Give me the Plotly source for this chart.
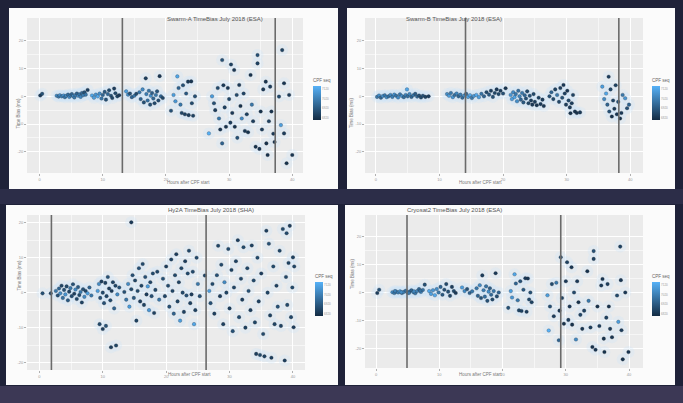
import plotly.graph_objects as go

W, H = 683, 403

# ---------------- data ----------------
titles = ["Swarm-A TimeBias July 2018 (ESA)", "Swarm-B TimeBias July 2018 (ESA)",
          "Hy2A TimeBias July 2018 (SHA)", "Cryosat2 TimeBias July 2018 (ESA)"]
x_title = "Hours after CPF start"
y_title = "Time Bias (ms)"
cbar_title = "CPF seq"
x_ticks = [0, 10, 20, 30, 40]
y_ticks = [-20, -10, 0, 10, 20]
seq_ticks = [6820, 6920, 7020, 7120]

swarm_a_hours = [0.1, 0.4,
    2.7, 3.0, 3.2, 3.5, 3.8, 4.0, 4.2, 4.5, 4.7, 4.9, 5.1, 5.3, 5.5, 5.7, 5.9, 6.1, 6.3, 6.5, 6.7, 6.9, 7.1, 7.3, 7.6,
    8.3, 8.6, 8.9, 9.2, 9.5, 9.8, 10.0, 10.3, 10.5, 10.8, 11.0, 11.3, 11.5, 11.8, 12.0, 12.3, 12.6,
    13.7, 14.0, 14.3, 14.6, 15.0, 15.3,
    15.8, 16.0, 16.3, 16.5, 16.8, 16.9, 17.1, 17.3, 17.5, 17.6, 17.8, 18.0, 18.2, 18.4, 18.6, 18.8, 19.0, 19.2, 19.5,
    20.8, 21.2, 21.5, 21.8, 22.0, 22.3, 22.5, 22.7, 23.0, 23.2, 23.5, 23.6, 24.0, 24.1, 24.3, 24.6,
    26.8, 27.3, 27.6, 27.8, 28.2, 28.4, 28.6, 28.9, 28.9, 29.1, 29.3, 29.5, 29.8, 30.0, 30.2, 30.3, 30.5, 30.8, 30.9, 31.2,
    31.3, 31.6, 31.8, 32.0, 32.3, 32.5, 32.8, 33.0, 33.4, 33.6, 33.8, 34.2, 34.5, 34.5, 34.8, 35.0, 35.2, 35.4, 35.8, 35.9,
    36.1, 36.3, 36.5, 36.7, 37.0, 37.2,
    37.9, 38.2, 38.4, 38.7, 38.7, 39.1, 39.5, 40.0]
swarm_a_bias = [0.3, 0.9,
    0.2, -0.1, 0.4, 0.0, 0.3, -0.3, 0.2, 0.6, -0.2, 0.3, 0.8, 0.1, -0.4, 0.5, 1.0, 0.2, 0.7, -0.2, 1.2, 0.4, 1.5, 0.6, 2.3,
    0.3, -0.5, 0.6, 0.0, 1.0, -0.8, 0.5, 1.6, -1.2, 0.8, 2.2, 0.2, -0.6, 2.8, 1.1, 0.0, 0.4,
    1.8, 0.6, 1.0, -0.3, 0.2, 0.9,
    1.5, -1.0, 2.5, -2.2, 6.5, 0.8, -1.5, 2.0, -3.0, 0.2, 1.2, -0.8, -2.5, 0.5, 1.8, -1.5, 7.3, 0.0, -0.6,
    -5.2, 0.5, -1.8, 7.2, 3.0, -3.0, -6.0, 4.0, -6.5, 1.0, 5.3, -6.8, 5.4, -2.5, -7.0, 0.0,
    -13.4, 0.0, -2.5, -5.0, 3.0, -8.0, -12.0, 13.1, -17.0, 4.0, -4.0, -11.0, 3.0, -1.0, -9.5, 11.5, -6.0, 9.5, -11.0, 0.5,
    -15.0, 4.1, -3.5, -8.0, 1.0, -12.5, -6.5, -13.0, 7.7, -3.0, -9.0, -18.2, 14.9, 11.9, -19.0, -5.5, -12.0, 2.5, 5.3, -17.0,
    -21.2, -9.0, 3.5, -5.5, -13.5, -16.5,
    -0.1, -10.4, 16.7, 4.7, -13.4, -24.2, 0.5, -21.2]
swarm_a_seq = [6850, 6900,
    7050, 7000, 7060, 7020, 7080, 7000, 7040, 6980, 7060, 7010, 6950, 7050, 7000, 7030, 6950, 7070, 6990, 7040, 6960, 7020, 6900, 7000, 6850,
    7120, 7100, 7080, 7130, 7060, 7000, 6950, 6920, 6900, 6960, 6880, 6900, 6870, 6850, 6880, 6870, 6840,
    7100, 7050, 6900, 6950, 7000, 6880,
    7000, 6950, 7050, 6900, 6850, 7020, 6980, 6990, 6900, 7060, 6930, 6960, 6880, 7000, 6910, 6890, 6830, 6950, 6870,
    6900, 7100, 7080, 7120, 6950, 7000, 6870, 6900, 6860, 6920, 6840, 6850, 6830, 6880, 6860, 6900,
    7150, 7100, 6900, 6850, 6880, 7000, 6830, 6900, 6950, 6840, 6860, 6820, 6830, 6870, 6850, 6860, 6840, 6830, 6820, 6880,
    6900, 6840, 6820, 7050, 6870, 6830, 6860, 6820, 6820, 7000, 6850, 6820, 6900, 6860, 6830, 6820, 6850, 6840, 6830, 6820,
    6820, 6860, 6850, 6820, 6840, 6830,
    6880, 7100, 6860, 6830, 6850, 6820, 6840, 6830]

swarm_b_hours = [0.2, 0.5, 0.8, 1.1, 1.4, 1.7, 2.0, 2.3, 2.6, 2.9, 3.2, 3.5, 3.8, 4.1, 4.4, 4.9, 4.7, 5.0, 5.3, 5.6, 5.9, 6.2, 6.5, 6.8, 7.1, 7.4, 7.8, 8.3,
    11.2, 11.5, 11.8, 12.1, 12.4, 12.7, 13.0, 13.3, 13.6, 13.9, 14.2, 14.5, 14.8, 15.1, 15.4,
    15.8, 16.2, 16.6, 17.0, 17.4, 17.8, 18.1, 18.4, 18.7, 19.0, 19.3, 19.6, 20.0, 20.4,
    21.2, 21.4, 21.6, 21.8, 22.0, 22.2, 22.4, 22.6, 22.8, 23.0, 23.2, 23.4, 23.6, 23.8, 24.0, 24.2, 24.4, 24.6, 24.8, 25.0, 25.3, 25.6, 25.9, 26.2, 26.4,
    27.3, 27.6, 27.9, 28.2, 28.5, 28.8, 29.0, 29.3, 29.5, 29.7, 29.9, 30.1, 30.3, 30.5, 30.6, 30.8, 31.0, 31.3, 31.6, 32.1,
    35.6, 35.9, 36.2, 36.4, 36.6, 36.7, 36.9, 37.1, 37.3, 37.5, 37.7, 37.9, 38.1, 38.4, 38.6, 38.8, 39.2, 39.5, 39.8]
swarm_b_bias = [-0.2, 0.3, -0.5, 0.1, 0.4, -0.3, 0.0, 0.5, -0.2, 0.6, 0.2, -0.4, 0.7, 0.1, -0.3, 2.5, 0.5, 0.0, 0.8, -0.2, 0.4, 0.9, -0.1, 0.3, -0.4, 0.2, -0.2, 0.0,
    0.8, 0.2, 1.2, -0.3, 0.5, 1.0, 0.0, 0.6, -0.5, 0.3, 0.9, -0.2, 0.4, -0.6, 0.1,
    0.5, -0.3, 0.9, 0.0, 1.5, 0.6, 2.0, -0.2, 1.2, 2.5, 0.8, 2.0, 1.0, 2.9,
    0.5, -1.0, 1.5, -0.3, 0.8, -1.8, 2.0, 0.0, -1.2, 1.2, -2.2, 0.4, -0.8, 1.8, -2.5, 0.2, -1.5, -3.0, 0.8, -2.0, -3.2, -0.5, -2.8, -1.2, -3.5,
    0.0, 1.5, -1.0, 2.5, 0.5, -2.0, 3.0, -0.5, 4.1, 1.0, -3.0, 2.0, -1.5, -4.0, -6.1, -2.5, 0.5, -5.5, -6.0, -5.8,
    3.5, -1.0, 1.0, -3.0, 7.1, -5.5, 2.5, -7.3, -1.5, -4.5, 4.0, -6.5, -2.0, -8.0, -6.0, 0.5, -0.7, -4.3, -3.0]
swarm_b_seq = [7000, 7050, 6950, 7080, 7000, 7060, 6980, 7040, 7020, 7070, 6990, 7050, 7010, 7060, 6970, 7120, 7030, 6980, 7040, 6950, 7000, 6930, 6960, 6900, 6880, 6900, 6860, 6850,
    7050, 7100, 7000, 7080, 6980, 7040, 6960, 7020, 6970, 7060, 6950, 7100, 7120, 7000, 7080,
    7130, 7100, 6990, 6950, 6880, 6920, 6850, 6900, 6870, 6840, 6880, 6850, 6900, 6830,
    7080, 7100, 7050, 7120, 7000, 7060, 6980, 7040, 6950, 7000, 6920, 6960, 6900, 6880, 6870, 6900, 6850, 6840, 6880, 6850, 6830, 6860, 6840, 6850, 6830,
    6900, 6950, 6880, 6860, 7000, 6870, 6850, 6900, 6840, 6860, 6850, 6830, 6880, 6840, 6820, 6850, 6860, 6830, 6820, 6840,
    7100, 7050, 7120, 6950, 6850, 6900, 6880, 6820, 6870, 6840, 6860, 6830, 6900, 6820, 6840, 7000, 7080, 6900, 6950]

hy2a_hours = [0.5, 1.8,
    2.6, 2.9, 3.1, 3.3, 3.5, 3.7, 3.9, 4.1, 4.3, 4.5, 4.7, 4.9, 5.1, 5.3, 5.5, 5.7, 5.9, 6.1, 6.3, 6.5, 6.7, 6.9, 7.1, 7.3, 7.6, 7.9, 8.2,
    9.2, 9.4, 9.6, 9.8, 10.0, 10.2, 10.4, 10.6, 10.8, 11.0, 11.2, 11.4, 11.6, 11.8, 12.0, 12.3, 12.6,
    9.5, 10.0, 10.5, 11.3, 12.1, 14.5,
    13.4, 13.7, 14.0, 14.2, 14.5, 14.7, 14.9, 15.1, 15.3, 15.5, 15.7, 15.9, 16.1, 16.3, 16.5, 16.7, 16.9, 17.1, 17.3, 17.5, 17.7, 17.9, 18.1, 18.3, 18.6, 18.9,
    19.5, 19.8, 20.0, 20.3, 20.5, 20.8, 21.0, 21.2, 21.4, 21.6, 21.8, 22.0, 22.2, 22.4, 22.6, 22.8, 23.0, 23.2, 23.4, 23.6, 23.8, 24.0, 24.2, 24.4, 24.6, 24.8, 25.0, 25.3, 26.1,
    26.8, 27.0, 27.3, 27.6, 28.0, 28.2, 28.5, 28.7, 29.0, 29.2, 29.5, 29.8, 30.0, 30.3, 30.5, 30.7, 31.0, 31.3, 31.5, 31.8,
    32.0, 32.2, 32.5, 32.8, 33.0, 33.3, 33.5, 33.8, 34.0, 34.2, 34.4, 34.6, 34.8, 35.0, 35.3, 35.5, 35.8, 36.0, 36.2, 36.4,
    36.6, 36.9, 37.1, 37.4, 37.6, 37.9, 38.1, 38.4, 38.7, 38.9, 39.1, 39.3, 39.5, 39.7, 39.9, 40.0, 40.1, 40.2, 39.0]
hy2a_bias = [-0.2, -0.2,
    0.5, -0.8, 1.2, -0.2, 2.0, -1.5, 0.8, -0.5, 1.8, -2.2, 0.3, 1.3, -1.0, 2.4, -0.3, 0.9, -1.8, 1.6, -0.7, 0.2, -2.8, 1.0, -1.2, 0.5, -0.2, 1.5, -0.8,
    0.5, 2.5, -1.5, 3.2, 0.0, -3.0, 2.8, -1.0, 4.5, 1.2, -2.2, 0.5, 3.0, -4.5, 2.0, -0.5, 1.5,
    -9.0, -10.4, -9.5, -15.6, -15.1, 20.1,
    0.2, -2.0, 2.5, -4.0, 1.0, 5.0, -1.5, 3.5, -8.0, 0.5, 7.0, -2.5, 2.0, 8.2, -3.5, 4.5, -0.5, 1.8, -5.0, 3.0, -1.0, 5.5, -5.8, 0.8, 6.0, -2.0,
    4.0, -1.0, 7.5, 2.0, -4.0, 9.5, 0.5, -6.0, 5.0, 11.0, -2.5, 3.0, -8.0, 7.0, 0.0, -5.5, 9.0, -0.8, 5.5, 12.0, -3.0, -0.5, 6.0, -9.0, -5.0, 10.0, 2.5, -1.0, 4.9,
    0.5, -3.0, 2.5, -6.0, 5.0, 13.4, -1.0, 8.0, -9.0, 3.0, 0.0, 12.5, -4.5, 6.5, -11.0, 1.5, 9.0, 15.0, -7.0, 4.0,
    -2.0, 13.0, -10.0, 7.0, 0.5, -5.0, 13.5, 3.5, -8.5, -17.5, 10.0, -2.5, -17.8, 5.5, -11.8, -18.2, 17.7, 0.0, 14.0, -6.5,
    -18.6, 7.5, -9.0, 2.0, -4.0, 12.0, -9.5, 18.2, -19.4, 4.5, -3.5, 8.5, 19.1, -7.0, 1.5, 10.1, -9.9, 7.5, 17.0]
hy2a_seq = [6900, 6880,
    7000, 6900, 6950, 7050, 6870, 6980, 6900, 7080, 6880, 6920, 6860, 7000, 6890, 6900, 6850, 7050, 6870, 6920, 6880, 7000, 6860, 6900, 7050, 6870, 7100, 6950, 7000,
    7100, 7050, 6900, 6850, 6880, 6900, 6860, 6870, 6900, 6850, 6880, 6840, 6860, 6950, 6870, 7050, 6900,
    6880, 6850, 6900, 6850, 6870, 6840,
    6900, 7000, 7050, 7100, 6880, 6900, 6920, 6870, 6860, 6880, 6900, 6850, 6870, 6880, 6860, 6900, 6850, 7100, 7080, 6870, 6900, 6880, 6860, 6880, 6870, 7000,
    6900, 6870, 6850, 6880, 6900, 6860, 6870, 6950, 6880, 6850, 6870, 6860, 7100, 6870, 6880, 6860, 6850, 6900, 6880, 6870, 6860, 6850, 6880, 7120, 6860, 6880, 7000, 6900, 6870,
    7100, 6900, 6880, 6860, 6900, 6870, 6850, 6880, 6860, 7050, 6870, 6880, 6850, 6860, 6900, 6870, 6860, 6850, 6880, 6870,
    6850, 6880, 6860, 6870, 6900, 6850, 6860, 6880, 6870, 6850, 6880, 6860, 6870, 6850, 6880, 6860, 6850, 6870, 6900, 6860,
    6850, 6880, 6870, 6860, 6900, 6870, 6860, 6880, 6850, 6870, 6880, 6860, 6850, 6870, 6880, 6860, 6850, 6870, 6880]

cryosat2_hours = [0.2, 0.5,
    2.6, 2.9, 3.2, 3.5, 3.8, 4.1, 4.4, 4.7, 5.0, 5.3, 5.6, 5.9, 6.2, 6.5, 6.8, 7.1, 7.4, 7.7, 3.0, 4.0, 5.2, 6.0, 7.0,
    8.4, 8.7, 9.0, 9.3, 9.6, 9.9, 10.2, 10.5, 10.8, 11.1, 11.4, 11.7, 12.0, 12.3, 12.6,
    13.6, 14.0, 14.4, 14.8, 15.2,
    15.9, 16.1, 16.4, 16.6, 16.8, 17.0, 17.2, 17.4, 17.6, 17.8, 18.0, 18.2, 18.4, 18.6, 18.9, 19.1, 19.4,
    20.9, 21.3, 21.5, 21.9, 22.1, 22.4, 22.6, 22.8, 23.0, 23.3, 23.6, 23.8, 24.0, 24.2, 24.4, 24.6,
    27.1, 27.3, 27.5, 27.8, 28.1, 28.5, 28.9, 29.0, 29.2, 29.4, 29.7, 30.0, 30.2, 30.4, 30.6, 30.9, 31.0, 31.3, 31.6, 31.8,
    32.0, 32.3, 32.6, 32.9, 33.4, 33.6, 33.9, 34.2, 34.4, 34.4, 34.7, 35.0, 35.3, 35.6, 35.8, 36.0, 36.1, 36.4, 36.6, 36.8,
    37.0, 37.3,
    38.1, 38.3, 38.6, 38.7, 38.8, 39.0, 39.4, 39.9]
cryosat2_bias = [-0.2, 1.0,
    0.1, -0.2, 0.3, 0.0, 0.4, -0.2, 0.2, 0.6, -0.1, 0.3, 0.8, 0.1, -0.3, 0.5, 1.2, 0.2, 0.9, 2.8, 0.5, 0.1, -0.2, 0.4, 0.6,
    0.5, -0.5, 0.8, -1.0, 1.2, 0.0, 2.0, -0.8, 1.0, 3.0, 0.3, -1.2, 2.0, 0.5, -0.2,
    1.8, 0.5, 1.2, -0.2, 0.4,
    1.5, -1.2, 2.6, -2.0, 6.1, 0.8, -1.5, 2.2, -3.0, 0.3, 1.5, -0.8, -2.5, 0.5, 6.9, -1.4, 0.0,
    -5.5, 0.5, -1.8, 6.5, 3.2, -2.8, -6.4, 4.0, -6.6, 1.0, 5.1, -6.9, 5.0, -2.5, 0.0, -3.5,
    -1.0, -13.6, -5.0, 3.0, -8.5, 3.5, -17.1, -6.5, 12.6, -2.0, -11.2, 4.0, 10.8, -9.8, -5.0, 9.0, -11.5, 0.0, -16.8, 4.0,
    -3.5, -8.0, -13.0, -6.5, 7.6, -3.0, -12.5, -19.5, 14.8, 12.0, -20.5, -5.0, -12.0, 2.5, 4.8, -16.5, -21.3, -9.0, 3.0, -5.0,
    -13.0, -16.0,
    -1.1, -10.5, 16.4, 4.4, -13.5, -23.9, 0.0, -21.3]
cryosat2_seq = [6850, 6900,
    7050, 7000, 7060, 7020, 7080, 7000, 7040, 6980, 7060, 7010, 6950, 7050, 7000, 7030, 6950, 7070, 6990, 6900, 7020, 7060, 7000, 7040, 6980,
    7120, 7100, 7080, 7130, 7060, 7000, 6950, 6920, 6900, 6880, 6900, 6870, 6850, 6880, 6840,
    7100, 7050, 6900, 6950, 7000,
    7000, 6950, 7050, 6900, 6850, 7020, 6980, 6990, 6900, 7060, 6930, 6960, 6880, 7000, 6840, 6890, 6950,
    6900, 7100, 7080, 7120, 6950, 7000, 6870, 6900, 6860, 6920, 6840, 6850, 6830, 6880, 6900, 6860,
    7100, 7150, 6900, 6880, 6850, 7000, 6950, 6830, 6900, 6860, 6820, 6840, 6860, 6850, 6840, 6830, 6820, 6880, 7050, 6840,
    6820, 6870, 6830, 6860, 6820, 7000, 6850, 6820, 6900, 6860, 6830, 6820, 6850, 6840, 6830, 6820, 6820, 6860, 6850, 6820,
    6840, 6830,
    6880, 7100, 6860, 6830, 6850, 6820, 6840, 6830]

# vertical reference lines (hours)
swarm_a_lines = [13.1, 37.3]
swarm_b_lines = [14.1, 38.2]
hy2a_lines = [1.9, 26.3]
cryosat2_lines = [4.9, 29.2]

panels_data = [
    (swarm_a_hours, swarm_a_bias, swarm_a_seq, swarm_a_lines),
    (swarm_b_hours, swarm_b_bias, swarm_b_seq, swarm_b_lines),
    (hy2a_hours, hy2a_bias, hy2a_seq, hy2a_lines),
    (cryosat2_hours, cryosat2_bias, cryosat2_seq, cryosat2_lines),
]

# ---------------- layout geometry (pixels) ----------------
cards = [(9, 8, 338, 189), (347, 8, 675, 189), (6, 205, 338, 385), (345, 205, 675, 385)]
plots = [(27, 18, 303, 173), (365, 18, 643, 173), (27, 215, 305, 370), (365, 215, 643, 368)]
xranges = [[-2.0, 41.7], [-1.7, 42.0], [-1.95, 41.9], [-1.74, 42.2]]
yranges = [[-27.7, 28.3], [-27.7, 28.3], [-22.1, 22.2], [-27.0, 27.7]]
cbars = [(313, 98), (652, 98), (315, 294), (652, 294)]
title_y = [14, 14, 210, 210]
xlab_y = [183, 183, 379, 379]
ylab_x = [14, 352, 14, 352]

def fx(px):
    return px / W

def fy(py):
    return 1 - py / H

fig = go.Figure()
shapes = []
annotations = []
layout = {}

# background glow
shapes.append(dict(type="rect", xref="paper", yref="paper", x0=0, x1=1, y0=0, y1=fy(386),
                   fillcolor="rgba(95,85,120,0.45)", line_width=0, layer="below"))
shapes.append(dict(type="rect", xref="paper", yref="paper", x0=0, x1=1, y0=fy(204), y1=fy(189),
                   fillcolor="rgba(70,65,100,0.35)", line_width=0, layer="below"))

for i, (hours, bias, seq, vlines) in enumerate(panels_data):
    n = min(len(hours), len(bias), len(seq))
    hours, bias, seq = hours[:n], bias[:n], seq[:n]
    sfx = "" if i == 0 else str(i + 1)
    xa, ya = "x" + sfx, "y" + sfx
    ca = "coloraxis" + sfx
    cx0, cy0, cx1, cy1 = cards[i]
    px0, py0, px1, py1 = plots[i]

    shapes.append(dict(type="rect", xref="paper", yref="paper", x0=fx(cx0), x1=fx(cx1), y0=fy(cy1), y1=fy(cy0),
                       fillcolor="#fbfbfb", line_width=0, layer="below"))
    shapes.append(dict(type="rect", xref="paper", yref="paper", x0=fx(px0), x1=fx(px1), y0=fy(py1), y1=fy(py0),
                       fillcolor="#ebebeb", line_width=0, layer="below"))

    layout["xaxis" + sfx] = dict(domain=[fx(px0), fx(px1)], range=xranges[i], anchor=ya,
                                 tickvals=x_ticks, ticktext=[str(v) for v in x_ticks],
                                 showgrid=True, gridcolor="#ffffff", gridwidth=1, zeroline=False,
                                 minor=dict(tickvals=[5, 15, 25, 35], showgrid=True, gridcolor="#f6f6f6", gridwidth=0.6),
                                 ticks="outside", ticklen=2, tickcolor="#b0b0b0", showline=False,
                                 tickfont=dict(size=4, color="#9a9a9a", family="Liberation Sans"))
    layout["yaxis" + sfx] = dict(domain=[fy(py1), fy(py0)], range=yranges[i], anchor=xa,
                                 tickvals=y_ticks, ticktext=[str(v) for v in y_ticks],
                                 showgrid=True, gridcolor="#ffffff", gridwidth=1, zeroline=False,
                                 minor=dict(tickvals=[-15, -5, 5, 15], showgrid=True, gridcolor="#f6f6f6", gridwidth=0.6),
                                 ticks="outside", ticklen=2, tickcolor="#b0b0b0", showline=False,
                                 tickfont=dict(size=4, color="#9a9a9a", family="Liberation Sans"))
    bx, by = cbars[i]
    layout[ca] = dict(cmin=6800, cmax=7150,
                      colorscale=[[0, "#132B43"], [1, "#56B1F7"]],
                      colorbar=dict(x=fx(bx), xanchor="left", y=fy(by), yanchor="middle",
                                    len=44, lenmode="pixels", thickness=8, thicknessmode="pixels",
                                    outlinewidth=0, xpad=0, ypad=0, ticks="",
                                    tickvals=seq_ticks, ticktext=[str(v) for v in seq_ticks],
                                    tickfont=dict(size=3, color="#9a9a9a", family="Liberation Sans"),
                                    title=dict(text=cbar_title, side="top",
                                               font=dict(size=4.5, color="#666", family="Liberation Sans"))))

    # soft light-blue halo behind the points
    fig.add_trace(go.Scatter(x=hours, y=bias, mode="markers", xaxis=xa, yaxis=ya,
                             marker=dict(size=12, color="rgba(205,228,248,0.3)", line_width=0),
                             hoverinfo="skip", showlegend=False))
    fig.add_trace(go.Scatter(x=hours, y=bias, mode="markers", xaxis=xa, yaxis=ya,
                             marker=dict(size=3.6, color=seq, coloraxis=ca,
                                         line=dict(width=0.4, color="rgba(25,30,40,0.6)")),
                             showlegend=False))

    for v in vlines:
        shapes.append(dict(type="line", xref=xa, yref=ya + " domain", x0=v, x1=v, y0=0, y1=1,
                           line=dict(color="#6a6a6a", width=1.6), layer="above"))

    cxm = fx((px0 + px1) / 2)
    annotations.append(dict(text=titles[i], x=cxm, y=fy(title_y[i]), xref="paper", yref="paper",
                            showarrow=False, font=dict(size=6, color="#555", family="Liberation Sans")))
    annotations.append(dict(text=x_title, x=cxm, y=fy(xlab_y[i]), xref="paper", yref="paper",
                            showarrow=False, font=dict(size=4.5, color="#777", family="Liberation Sans")))
    annotations.append(dict(text=y_title, x=fx(ylab_x[i]), y=fy((py0 + py1) / 2), xref="paper", yref="paper",
                            showarrow=False, textangle=-90,
                            font=dict(size=4.5, color="#777", family="Liberation Sans")))

fig.update_layout(width=W, height=H, autosize=False,
                  margin=dict(l=0, r=0, t=0, b=0),
                  paper_bgcolor="#1f2239", plot_bgcolor="rgba(0,0,0,0)",
                  shapes=shapes, annotations=annotations, **layout)

fig.write_html("out.html", config={"displayModeBar": False},
               post_script="document.body.style.margin='0';document.body.style.overflow='hidden';")
